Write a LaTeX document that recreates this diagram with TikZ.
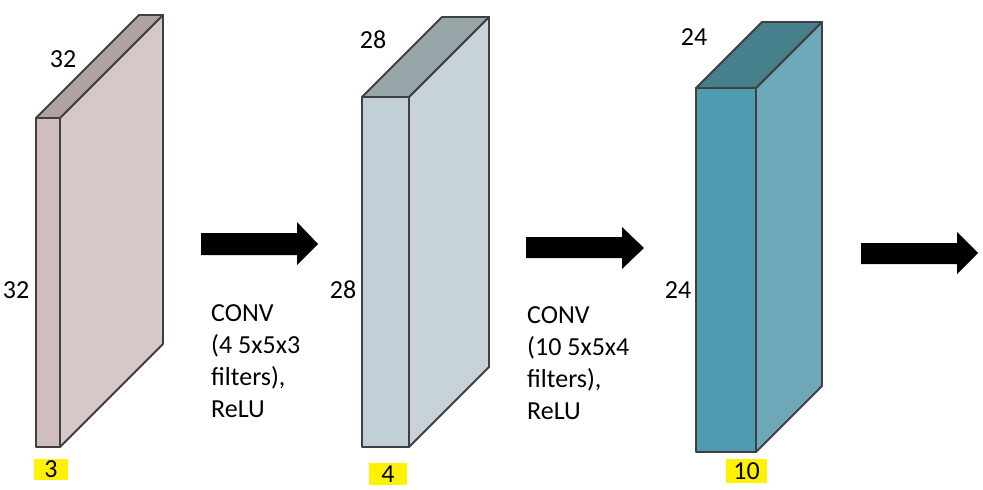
\documentclass[tikz,border=0pt]{standalone}
\usepackage{fontspec}
\setmainfont{Carlito}
\definecolor{outl}{RGB}{64,64,64}
\definecolor{aF}{RGB}{208,190,190}
\definecolor{aS}{RGB}{214,200,199}
\definecolor{aT}{RGB}{176,162,162}
\definecolor{bF}{RGB}{193,208,214}
\definecolor{bS}{RGB}{199,211,216}
\definecolor{bT}{RGB}{152,166,170}
\definecolor{cF}{RGB}{79,155,177}
\definecolor{cS}{RGB}{110,168,185}
\definecolor{cT}{RGB}{70,128,140}
\newcommand\drawslab[8]{%
  \filldraw[slabline,fill=#6] (#1,#3) rectangle (#2,#4);
  \filldraw[slabline,fill=#7] (#2,#3) -- ({#2+#5},{#3-#5}) -- ({#2+#5},{#4-#5}) -- (#2,#4) -- cycle;
  \filldraw[slabline,fill=#8] (#1,#3) -- ({#1+#5},{#3-#5}) -- ({#2+#5},{#3-#5}) -- (#2,#3) -- cycle;
}
\begin{document}
\begin{tikzpicture}[x=1pt,y=-1pt,
  slabline/.style={draw=outl,line width=1.8pt,line join=round},
  lbl/.style={font=\fontsize{26}{30}\selectfont,inner sep=0pt},
  hl/.style={lbl,fill=yellow},
  desc/.style={font=\fontsize{26}{32}\selectfont,align=left,inner sep=0pt,anchor=north west},
  bigarrow/.style={fill=black}]
\useasboundingbox (0,0) rectangle (983,490);
% slabs
\drawslab{36}{60}{118}{447}{103}{aF}{aS}{aT}
\drawslab{362}{409}{97}{447}{80}{bF}{bS}{bT}
\drawslab{696}{756}{88}{452}{66}{cF}{cS}{cT}
% labels slab 1
\node[lbl] (w1) at (63,59) {32};
\node[lbl] (h1) at (16,290) {32};
\node[hl,minimum width=34pt,minimum height=21pt] (d1) at (51,469.5) {3};
% labels slab 2
\node[lbl] (w2) at (373,40) {28};
\node[lbl] (h2) at (343,290) {28};
\node[hl,minimum width=38pt,minimum height=22pt] (d2) at (388,474) {4};
% labels slab 3
\node[lbl] (w3) at (694,37) {24};
\node[lbl] (h3) at (678,290) {24};
\node[hl,minimum width=41pt,minimum height=24pt] (d3) at (746.5,471) {10};
% arrows
\fill[bigarrow] (201,233) -- (297,233) -- (297,222) -- (318,244) -- (297,265) -- (297,255) -- (201,255) -- cycle;
\fill[bigarrow] (526,237) -- (622,237) -- (622,227) -- (644,248) -- (622,269) -- (622,258) -- (526,258) -- cycle;
\fill[bigarrow] (861,243) -- (957,243) -- (957,232) -- (978,253) -- (957,274) -- (957,264) -- (861,264) -- cycle;
% descriptions
\node[desc] (t1) at (211,304) {CONV\\(4 5x5x3\\filters),\\ReLU};
\node[desc] (t2) at (527,306) {CONV\\(10 5x5x4\\filters),\\ReLU};
\end{tikzpicture}
\end{document}
